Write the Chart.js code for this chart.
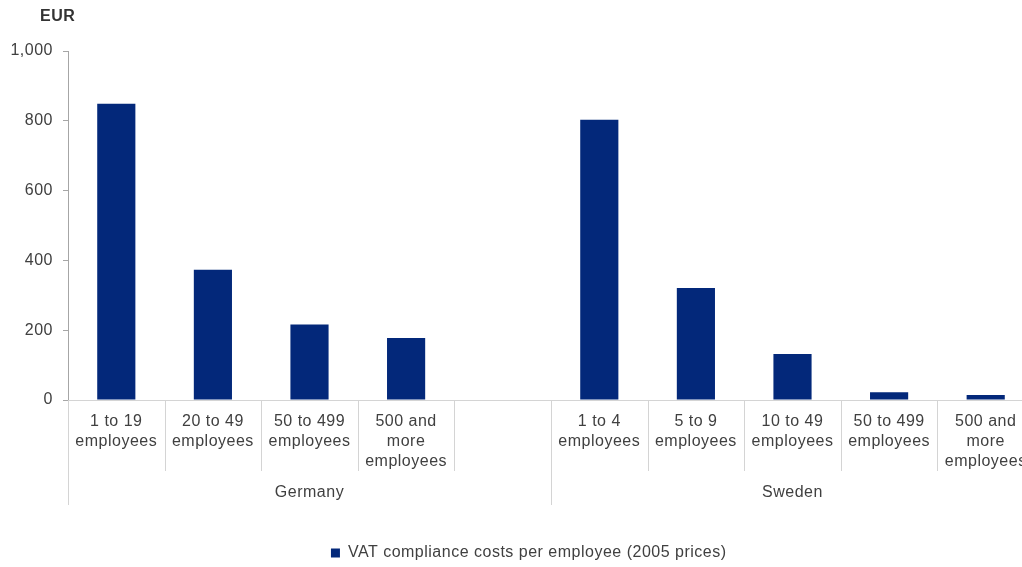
<!DOCTYPE html>
<html>
<head>
<meta charset="utf-8">
<script src="https://cdn.jsdelivr.net/npm/chart.js@4/dist/chart.umd.min.js"></script>
<style>
  html, body { margin: 0; padding: 0; background: #fff; overflow: hidden; }
  #wrap { position: relative; width: 1044px; height: 567px; }
</style>
</head>
<body>
<div id="wrap"><canvas id="costs"></canvas></div>
<script>
// VAT compliance costs per employee, EUR at 2005 prices
const germanySizes = [
    ['1 to 19', 'employees'],
    ['20 to 49', 'employees'],
    ['50 to 499', 'employees'],
    ['500 and', 'more', 'employees'],
];
const germanyValues = [849, 373, 216, 178];

const swedenSizes = [
    ['1 to 4', 'employees'],
    ['5 to 9', 'employees'],
    ['10 to 49', 'employees'],
    ['50 to 499', 'employees'],
    ['500 and', 'more', 'employees'],
];
const swedenValues = [803, 321, 132, 22, 14];

const groupNames = ['Germany', 'Sweden'];
const yTicks = [0, 200, 400, 600, 800, 1000];
const seriesLabel = 'VAT compliance costs per employee (2005 prices)';

// Germany gets an empty slot after its bars, as in the source workbook
const labels = [...germanySizes, '', ...swedenSizes];
const values = [...germanyValues, null, ...swedenValues];
const groupSizes = [germanySizes.length + 1, swedenSizes.length];

const FONT = "'Liberation Sans', Arial, sans-serif";
const TEXT = '#404040';
const NAVY = '#03287a';

// category separators, group boundaries, group names and the unit label
const groupAxis = {
    id: 'groupAxis',
    beforeDraw(chart) {
        chart.ctx.letterSpacing = '0.5px';
    },
    afterDraw(chart) {
        const { ctx, chartArea: area } = chart;
        const x = chart.scales.x;
        const step = x.getPixelForValue(1) - x.getPixelForValue(0);
        const start = x.getPixelForValue(0) - step / 2;

        const edges = [0];
        groupSizes.forEach((n) => edges.push(edges[edges.length - 1] + n));

        ctx.save();
        ctx.lineWidth = 1;
        ctx.strokeStyle = '#d4d4d4';
        for (let i = 0; i <= labels.length; i++) {
            const px = Math.round(start + i * step) + 0.5;
            const bottom = edges.includes(i) ? area.bottom + 105 : area.bottom + 71;
            ctx.beginPath();
            ctx.moveTo(px, area.bottom);
            ctx.lineTo(px, bottom);
            ctx.stroke();
        }

        ctx.fillStyle = TEXT;
        ctx.font = `16px ${FONT}`;
        ctx.textAlign = 'center';
        ctx.textBaseline = 'middle';
        groupNames.forEach((name, g) => {
            const cx = start + (edges[g] + edges[g + 1]) / 2 * step;
            ctx.fillText(name, cx, area.bottom + 93);
        });

        ctx.font = `bold 16px ${FONT}`;
        ctx.fillStyle = '#333';
        ctx.textAlign = 'left';
        ctx.fillText('EUR', area.left - 28, 17);
        ctx.restore();
    },
};

new Chart(document.getElementById('costs'), {
    type: 'bar',
    data: {
        labels,
        datasets: [{
            label: seriesLabel,
            data: values,
            backgroundColor: NAVY,
            borderWidth: 0,
            categoryPercentage: 1,
            barPercentage: 0.395,
        }],
    },
    options: {
        responsive: true,
        maintainAspectRatio: false,
        animation: false,
        layout: { padding: { top: 51, right: 10, left: 0, bottom: -4 } },
        plugins: {
            tooltip: { enabled: false },
            legend: {
                position: 'bottom',
                labels: {
                    color: TEXT,
                    boxWidth: 9,
                    boxHeight: 9,
                    padding: 6,
                    font: { size: 16, family: FONT },
                },
            },
        },
        scales: {
            x: {
                afterFit: (scale) => { scale.height = 139; },
                grid: { display: false },
                border: { display: true, color: '#d4d4d4' },
                ticks: {
                    color: TEXT,
                    autoSkip: false,
                    maxRotation: 0,
                    padding: 4,
                    font: { size: 16, family: FONT, lineHeight: 1.25 },
                },
            },
            y: {
                min: 0,
                max: 1000,
                afterFit: (scale) => { scale.width = 68; },
                afterBuildTicks: (scale) => { scale.ticks = yTicks.map((v) => ({ value: v })); },
                grid: { drawOnChartArea: false, tickLength: 5, color: '#a6a6a6' },
                border: { display: true, color: '#a6a6a6' },
                ticks: {
                    color: TEXT,
                    padding: 10,
                    font: { size: 16, family: FONT },
                    callback: (v) => Number(v).toLocaleString('en-US'),
                },
            },
        },
    },
    plugins: [groupAxis],
});
</script>
</body>
</html>
